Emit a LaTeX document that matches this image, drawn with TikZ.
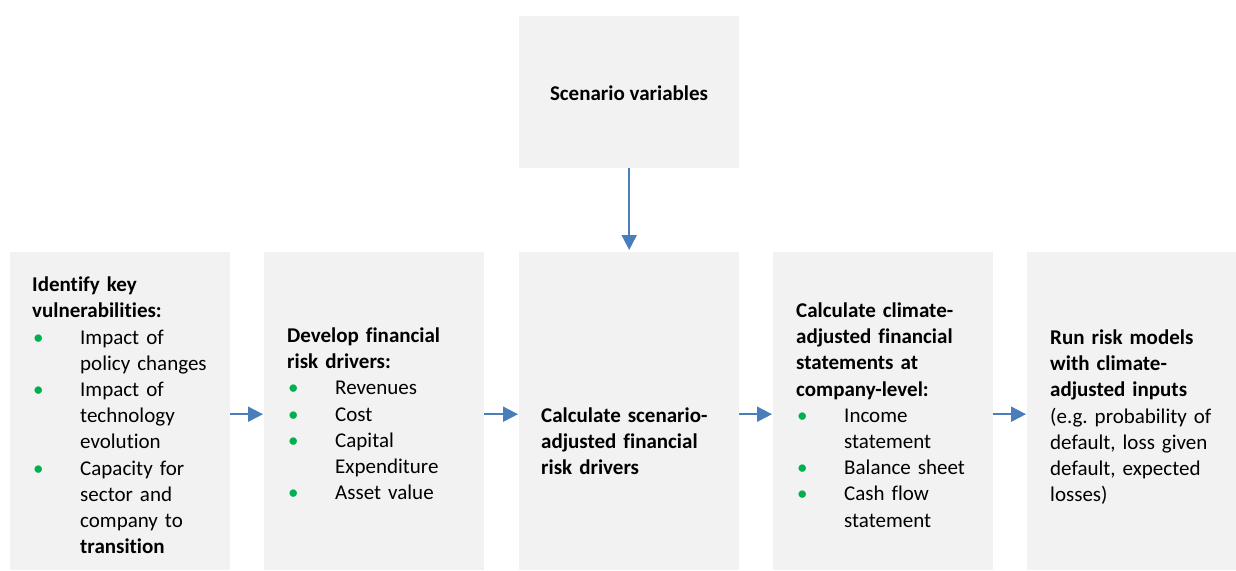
\documentclass[tikz,border=0pt]{standalone}
\usepackage{fontspec}
\setmainfont{Carlito}[Ligatures=NoCommon]
\usetikzlibrary{arrows.meta}
\definecolor{boxgrey}{HTML}{F2F2F2}
\definecolor{arrowblue}{HTML}{4A7EBB}
\definecolor{bulletgreen}{HTML}{00B050}
\frenchspacing
\newcommand\bulitem[1]{\par\noindent\hangindent=48pt\hangafter=1\makebox[48pt][l]{\hspace{1pt}\textcolor{bulletgreen}{\textbullet}}{\let\\\newline #1}\par}
\tikzset{
  greybox/.style={fill=boxgrey, draw=none, inner sep=0, anchor=north west},
  boxtext/.style={anchor=base west, inner sep=0, text width=200pt, align=left,
    font=\fontsize{21}{26.2}\selectfont},
  arr/.style={draw=arrowblue, line width=2pt, -{Triangle[length=15pt,width=15pt]}}
}
\begin{document}
\begin{tikzpicture}[x=1pt,y=-1pt]
\useasboundingbox (0,0) rectangle (1236,570);
% boxes
\node[greybox, minimum width=220pt, minimum height=152pt] (sv) at (519,16) {};
\node[greybox, minimum width=220pt, minimum height=318pt] (b1) at (10,252) {};
\node[greybox, minimum width=220pt, minimum height=318pt] (b2) at (264,252) {};
\node[greybox, minimum width=220pt, minimum height=318pt] (b3) at (519,252) {};
\node[greybox, minimum width=220pt, minimum height=318pt] (b4) at (773,252) {};
\node[greybox, minimum width=209pt, minimum height=318pt] (b5) at (1027,252) {};
% texts
\node[anchor=base, inner sep=0, font=\fontsize{21}{26.2}\selectfont\bfseries] (t0) at (629,100) {Scenario variables};
\node[boxtext] (t1) at (32,291.7) {\textbf{Identify key}\\\textbf{vulnerabilities:}%
\bulitem{Impact of\\policy changes}%
\bulitem{Impact of\\technology\\evolution}%
\bulitem{Capacity for\\sector and\\company to\\\textbf{transition}}};
\node[boxtext] (t2) at (287,342.5) {\textbf{Develop financial}\\\textbf{risk drivers:}%
\bulitem{Revenues}%
\bulitem{Cost}%
\bulitem{Capital\\Expenditure}%
\bulitem{Asset value}};
\node[boxtext] (t3) at (541,422.5) {\textbf{Calculate scenario-}\\\textbf{adjusted financial}\\\textbf{risk drivers}};
\node[boxtext] (t4) at (796,317.5) {\textbf{Calculate climate-}\\\textbf{adjusted financial}\\\textbf{statements at}\\\textbf{company-level:}%
\bulitem{Income\\statement}%
\bulitem{Balance sheet}%
\bulitem{Cash flow\\statement}};
\node[boxtext] (t5) at (1050,344.5) {\textbf{Run risk models}\\\textbf{with climate-}\\\textbf{adjusted inputs}\\(e.g. probability of\\default, loss given\\default, expected\\losses)};
% arrows
\draw[arr] (sv.south) -- ([yshift=2pt]b3.north);
\draw[arr] ([yshift=-3pt]b1.east) -- ([xshift=-1pt,yshift=-3pt]b2.west);
\draw[arr] ([yshift=-3pt]b2.east) -- ([xshift=-1pt,yshift=-3pt]b3.west);
\draw[arr] ([yshift=-3pt]b3.east) -- ([xshift=-1pt,yshift=-3pt]b4.west);
\draw[arr] ([yshift=-3pt]b4.east) -- ([xshift=-1pt,yshift=-3pt]b5.west);
\end{tikzpicture}
\end{document}
